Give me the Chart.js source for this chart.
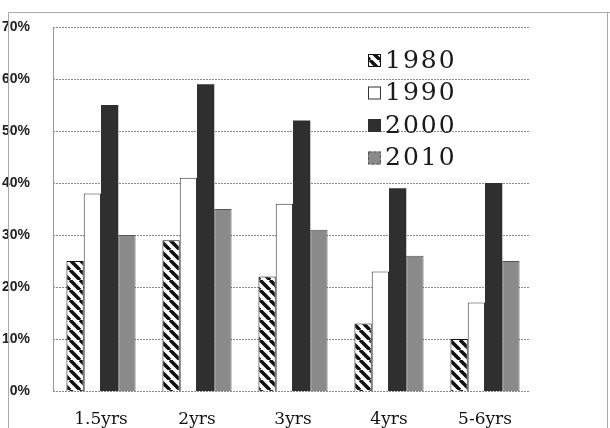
<!DOCTYPE html>
<html>
<head>
<meta charset="utf-8">
<script src="https://cdn.jsdelivr.net/npm/chart.js@4.4.1/dist/chart.umd.min.js"></script>
<style>
  html, body { margin: 0; padding: 0; background: #fff; }
  #wrap { position: relative; width: 610px; height: 428px; }
</style>
</head>
<body>
<div id="wrap"><canvas id="ageChart" width="610" height="428"></canvas></div>
<script>
// Chart data (percent)
const ageGroups = ["1.5yrs", "2yrs", "3yrs", "4yrs", "5-6yrs"];
const years = ["1980", "1990", "2000", "2010"];
const values1980 = [25, 29, 22, 13, 10];
const values1990 = [38, 41, 36, 23, 17];
const values2000 = [55, 59, 52, 39, 40];
const values2010 = [30, 35, 31, 26, 25];

// Diagonal stripe pattern for the 1980 bars
function makeStripes() {
  const s = 10;
  const c = document.createElement("canvas");
  c.width = s;
  c.height = s;
  const g = c.getContext("2d");
  g.fillStyle = "#fff";
  g.fillRect(0, 0, s, s);
  g.strokeStyle = "#111";
  g.lineWidth = 3.5;
  [-s, 0, s].forEach((k) => {
    g.beginPath();
    g.moveTo(k, 0);
    g.lineTo(k + s, s);
    g.stroke();
  });
  return document.getElementById("ageChart").getContext("2d").createPattern(c, "repeat");
}
const stripes = makeStripes();

const seriesStyle = [
  { fill: stripes, border: "#111", dash: [] },
  { fill: "#ffffff", border: "#333", dash: [] },
  { fill: "#2f2f2f", border: "#2f2f2f", dash: [] },
  { fill: "#8a8a8a", border: "#555", dash: [3, 2] },
];

// Grid lines, y axis line, frame and the legend inside the plot
const extras = {
  id: "extras",
  beforeDatasetsDraw(chart) {
    const ctx = chart.ctx;
    const area = chart.chartArea;
    const yScale = chart.scales.y;
    ctx.save();
    ctx.strokeStyle = "#888";
    ctx.lineWidth = 1;
    ctx.setLineDash([2, 1]);
    yScale.ticks.forEach((t) => {
      const py = Math.round(yScale.getPixelForValue(t.value)) + 0.5;
      ctx.beginPath();
      ctx.moveTo(area.left, py);
      ctx.lineTo(area.right - 3, py);
      ctx.stroke();
    });
    ctx.setLineDash([]);
    ctx.strokeStyle = "#999";
    ctx.beginPath();
    ctx.moveTo(area.left + 0.5, area.top);
    ctx.lineTo(area.left + 0.5, area.bottom);
    ctx.stroke();
    ctx.restore();
  },
  afterDraw(chart) {
    const ctx = chart.ctx;
    ctx.save();
    // frame
    ctx.strokeStyle = "#aaa";
    ctx.lineWidth = 1;
    ctx.beginPath();
    ctx.moveTo(8.5, 428);
    ctx.lineTo(8.5, 12.5);
    ctx.lineTo(610, 12.5);
    ctx.stroke();
    ctx.beginPath();
    ctx.moveTo(607.5, 12.5);
    ctx.lineTo(607.5, 428);
    ctx.stroke();

    // legend
    const rows = [60, 92.5, 125, 157.5];
    ctx.font = "25px 'DejaVu Serif'";
    ctx.letterSpacing = "2px";
    ctx.textBaseline = "middle";
    years.forEach((y, i) => {
      const st = seriesStyle[i];
      const top = rows[i] - 6;
      ctx.fillStyle = st.fill;
      ctx.fillRect(368, top, 13, 13);
      ctx.strokeStyle = st.border;
      ctx.lineWidth = 1;
      ctx.setLineDash(st.dash);
      ctx.strokeRect(368.5, top + 0.5, 12, 12);
      ctx.setLineDash([]);
      ctx.fillStyle = "#1a1a1a";
      ctx.fillText(y, 385, rows[i] + 1);
    });
    ctx.restore();
  },
};

const datasets = [values1980, values1990, values2000, values2010].map((vals, i) => ({
  label: years[i],
  data: vals,
  backgroundColor: seriesStyle[i].fill,
  borderColor: seriesStyle[i].border,
  borderWidth: i === 2 ? 0 : 1,
  borderDash: seriesStyle[i].dash,
  categoryPercentage: 0.72,
  barPercentage: 1.0,
}));

new Chart(document.getElementById("ageChart"), {
  type: "bar",
  data: { labels: ageGroups, datasets: datasets },
  options: {
    responsive: false,
    animation: false,
    layout: { padding: { top: 27, right: 77, left: 0, bottom: 0 } },
    plugins: {
      legend: { display: false },
      tooltip: { enabled: false },
    },
    scales: {
      x: {
        grid: { display: false },
        border: { display: false },
        ticks: {
          color: "#111",
          padding: 10,
          font: { family: "'DejaVu Serif'", size: 17 },
        },
        afterFit: (scale) => { scale.height = 37; },
      },
      y: {
        min: 0,
        max: 70,
        ticks: {
          stepSize: 10,
          padding: 15,
          color: "#222",
          font: { family: "'Liberation Sans'", size: 14, weight: "bold" },
          callback: (v) => v + "%",
        },
        grid: { display: false },
        border: { display: false },
        afterFit: (scale) => { scale.width = 53; },
      },
    },
  },
  plugins: [extras],
});
</script>
</body>
</html>
